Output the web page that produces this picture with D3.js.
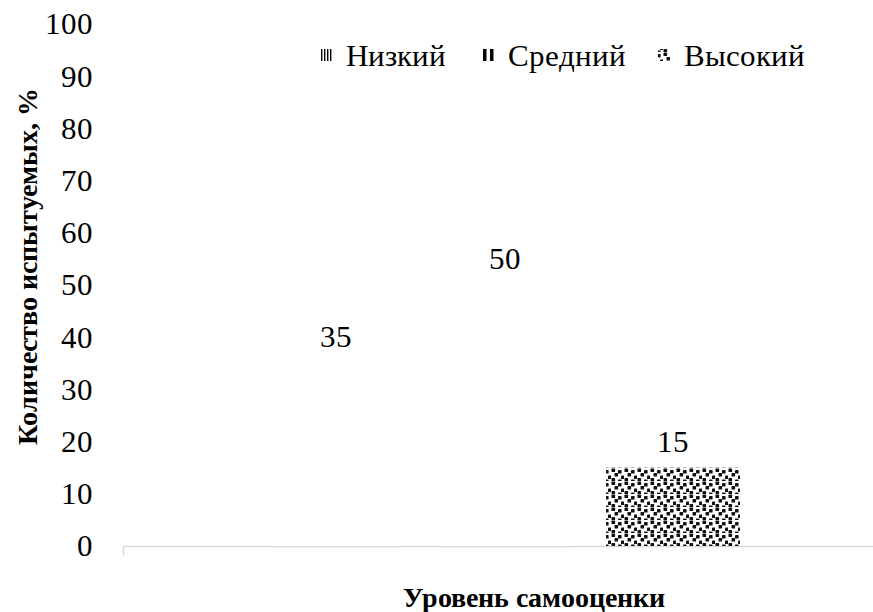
<!DOCTYPE html>
<html><head><meta charset="utf-8">
<script src="https://cdn.jsdelivr.net/npm/d3@7"></script>
<style>
@font-face{font-family:"RefSerif";src:local("Liberation Serif"),local("LiberationSerif"),local("Times New Roman");font-weight:400;}
@font-face{font-family:"RefSerif";src:local("Liberation Serif Bold"),local("LiberationSerif-Bold"),local("Times New Roman Bold");font-weight:700;}
</style>
</head><body>
<script>
const series = ["Низкий", "Средний", "Высокий"];
const values = [35, 50, 15];
const yTicks = [0,10,20,30,40,50,60,70,80,90,100];
const yTitle = "Количество испытуемых, %";
const xTitle = "Уровень самооценки";

const W = 873, H = 612;
const FONT = 'RefSerif, "Liberation Serif", "Times New Roman", Tinos';
d3.select("body").style("margin","0px").style("background","#fff");
const svg = d3.select("body").append("svg").attr("width", W).attr("height", H).style("display","block");
const defs = svg.append("defs");

function serif(sel, size, bold) {
  sel.style("font-family", FONT).style("font-size", size + "px");
  if (bold) sel.style("font-weight", "bold");
  return sel;
}

// patterns
const p1 = defs.append("pattern").attr("id","pLow").attr("patternUnits","userSpaceOnUse").attr("width",3).attr("height",4);
p1.append("rect").attr("width",3).attr("height",4).attr("fill","#fff");
p1.append("rect").attr("width",1.4).attr("height",4).attr("fill","#000");
const p2 = defs.append("pattern").attr("id","pMid").attr("patternUnits","userSpaceOnUse").attr("width",7).attr("height",4);
p2.append("rect").attr("width",7).attr("height",4).attr("fill","#fff");
p2.append("rect").attr("width",3.5).attr("height",4).attr("fill","#000");
const p3 = defs.append("pattern").attr("id","pHigh").attr("patternUnits","userSpaceOnUse").attr("width",13).attr("height",13);
p3.append("rect").attr("width",13).attr("height",13).attr("fill","#fff");
[[0.5,0.5],[7,2],[3.5,5],[10,7.5],[0.5,10],[7,11.5]].forEach(([x,y])=>{
  p3.append("rect").attr("x",x).attr("y",y).attr("width",3.6).attr("height",3.6).attr("fill","#111").attr("rx",0.7);
});

const y = d3.scaleLinear().domain([0,100]).range([546, 24]);
const x = d3.scaleBand().domain(series).range([269, 740]).paddingInner(0.205).paddingOuter(0);

// axis baseline
svg.append("line").attr("x1",123).attr("x2",W).attr("y1",y(0)+0.5).attr("y2",y(0)+0.5).attr("stroke","#d9d9d9").attr("stroke-width",1.3);
svg.append("line").attr("x1",123.5).attr("x2",123.5).attr("y1",y(0)).attr("y2",y(0)+10).attr("stroke","#d9d9d9").attr("stroke-width",1.3);

// y tick labels
const yAxis = d3.axisLeft(y).tickValues(yTicks).tickSize(0).tickPadding(0);
const gy = svg.append("g").attr("transform","translate(93,0)").call(yAxis);
gy.select(".domain").remove();
gy.attr("font-family", null).attr("font-size", null);
serif(gy.selectAll("text"), 31).attr("fill","#000");

// bars (low & mid render blank as in source)
const fills = {"Низкий":"#fff","Средний":"#fff","Высокий":"url(#pHigh)"};
svg.selectAll("rect.bar").data(series).join("rect").attr("class","bar")
  .attr("x", d=>x(d)).attr("width", x.bandwidth())
  .attr("y", (d,i)=>y(values[i])).attr("height",(d,i)=>y(0)-y(values[i]))
  .attr("fill", d=>fills[d]);

// data labels
serif(svg.selectAll("text.lbl").data(series).join("text").attr("class","lbl")
  .attr("x", d=>x(d)+x.bandwidth()/2)
  .attr("y", (d,i)=>y(values[i]) - 16)
  .attr("text-anchor","middle"), 31)
  .text((d,i)=>values[i]);

// legend
const legX = [320, 482, 658];
const legFill = ["url(#pLow)","url(#pMid)","url(#pHigh)"];
series.forEach((s,i)=>{
  svg.append("rect").attr("x",legX[i]).attr("y",49).attr("width",12).attr("height",12).attr("fill",legFill[i]);
  serif(svg.append("text").attr("x",legX[i]+26).attr("y",66), 31).text(s);
});

// axis titles
serif(svg.append("text").attr("transform","translate(37,266) rotate(-90)").attr("text-anchor","middle"), 28, true).text(yTitle);
serif(svg.append("text").attr("x",534).attr("y",607).attr("text-anchor","middle"), 28, true).text(xTitle);
</script>
</body></html>
